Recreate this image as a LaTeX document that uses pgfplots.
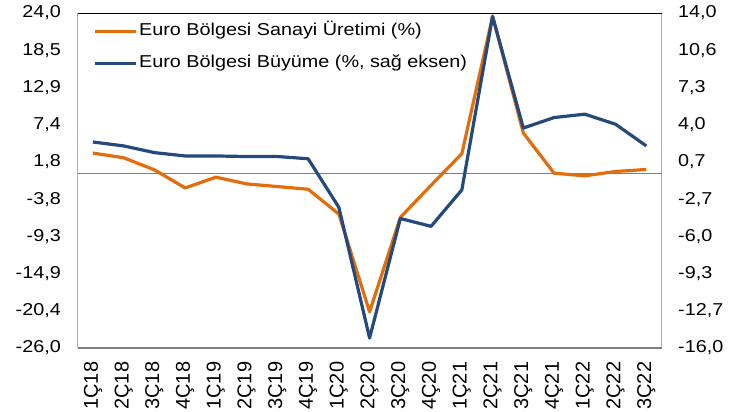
\documentclass[border=0pt]{standalone}
\usepackage{pgfplots}
\pgfplotsset{compat=1.18}
\usepackage{fontspec}
\setmainfont{Liberation Sans}[FakeStretch=1.15]
\newfontfamily\xfont{Liberation Sans}
\definecolor{oran}{RGB}{228,108,10}
\definecolor{navy}{RGB}{36,74,125}
\definecolor{sidegray}{RGB}{176,176,176}
\definecolor{botgray}{RGB}{128,128,128}

\begin{document}
\begin{tikzpicture}
\pgfplotsset{
  base/.style={
    scale only axis, width=584bp, height=335bp,
    xmin=-0.5, xmax=18.5,
    major tick length=0pt,
    tick style={draw=none},
    axis line style={draw=none},
    /pgf/number format/assume math mode=true,
    ticklabel style={font=\fontsize{17.2bp}{20bp}\selectfont},
    clip=false,
  }
}
\begin{axis}[base,
  ymin=-26, ymax=24,
  ytick={-26,-20.4444,-14.8889,-9.3333,-3.7778,1.7778,7.3333,12.8889,18.4444,24},
  yticklabels={{-26,0},{-20,4},{-14,9},{-9,3},{-3,8},{1,8},{7,4},{12,9},{18,5},{24,0}},
  yticklabel style={anchor=east, inner sep=0pt},
  yticklabel shift=16.5bp,
  xtick={0,...,18},
  xticklabels={1Ç18,2Ç18,3Ç18,4Ç18,1Ç19,2Ç19,3Ç19,4Ç19,1Ç20,2Ç20,3Ç20,4Ç20,1Ç21,2Ç21,3Ç21,4Ç21,1Ç22,2Ç22,3Ç22},
  xticklabel style={rotate=90, anchor=east, inner sep=0pt, font=\xfont\fontsize{20bp}{22bp}\selectfont},
  xticklabel shift=13.5bp,
]
\coordinate (sw) at (rel axis cs:0,0);
\coordinate (ne) at (rel axis cs:1,1);
\draw[sidegray, line width=1.3bp] (rel axis cs:0,0) -- (rel axis cs:0,1);
\draw[sidegray, line width=1.3bp] (rel axis cs:1,0) -- (rel axis cs:1,1);
\draw[botgray, line width=1.3bp] (rel axis cs:0,0) -- (rel axis cs:1,0);
\draw[black, line width=0.9bp] (rel axis cs:0,1) -- (rel axis cs:1,1);
\addplot[botgray, line width=1bp] coordinates {(-0.5,0) (18.5,0)};
\addplot[oran, line width=3.2bp, line join=round, mark=none] coordinates {
(0,3.1) (1,2.4) (2,0.6) (3,-2.1) (4,-0.5) (5,-1.5) (6,-1.9) (7,-2.3)
(8,-6.0) (9,-20.6) (10,-6.5) (11,-1.7) (12,3.0) (13,23.5) (14,6.1)
(15,0.1) (16,-0.3) (17,0.35) (18,0.65)};
\end{axis}
\begin{axis}[base,
  ymin=-16, ymax=14,
  xtick=\empty,
  ytick={-16,-12.6667,-9.3333,-6,-2.6667,0.6667,4,7.3333,10.6667,14},
  yticklabels={{-16,0},{-12,7},{-9,3},{-6,0},{-2,7},{0,7},{4,0},{7,3},{10,6},{14,0}},
  yticklabel pos=right,
  yticklabel style={anchor=west, inner sep=0pt},
  yticklabel shift=16.3bp,
  legend style={at={(rel axis cs:0.027,0.969)}, anchor=north west, draw=none, fill=none,
    inner sep=0pt, row sep=16bp, column sep=1.5bp,
    font=\fontsize{17.2bp}{20bp}\selectfont,
    nodes={inner sep=0pt, text height=12bp, text depth=4bp},
    cells={anchor=west}},
  legend image code/.code={\draw[#1] (0bp,0bp) -- (41bp,0bp);},
]
\addlegendimage{oran, line width=3.2bp}
\addlegendentry{Euro Bölgesi Sanayi Üretimi (\%)}
\addplot[navy, line width=3.2bp, line join=round, mark=none] coordinates {
(0,2.45) (1,2.1) (2,1.5) (3,1.2) (4,1.2) (5,1.15) (6,1.15) (7,0.95)
(8,-3.4) (9,-15.1) (10,-4.4) (11,-5.1) (12,-1.84) (13,13.7) (14,3.7)
(15,4.64) (16,4.94) (17,4.04) (18,2.1)};
\addlegendentry{Euro Bölgesi Büyüme (\%, sağ eksen)}
\end{axis}
\pgfresetboundingbox
\path ([shift={(-77.5bp,-63bp)}]sw) rectangle ([shift={(91.3bp,13bp)}]ne);
\end{tikzpicture}
\end{document}
